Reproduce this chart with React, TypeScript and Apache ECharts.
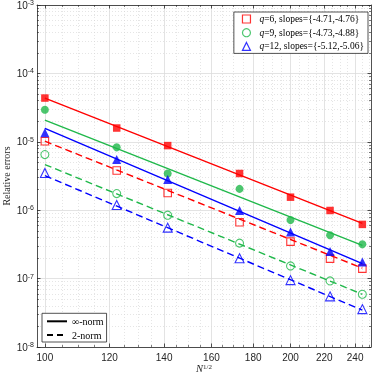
import React, { useEffect, useRef } from "react";
import * as echarts from "echarts";

// x = N^{1/2}
const X_VALUES = [100, 122.47, 141.42, 173.21, 200, 223.61, 244.95];
const X_TICKS = [100, 120, 140, 160, 180, 200, 220, 240];
const X_MINOR = [105, 110, 115, 125, 130, 135, 145, 150, 155, 165, 170, 175, 185, 190, 195, 205, 210, 215, 225, 230, 235, 245, 250];
const Y_TICK_EXP = [-8, -7, -6, -5, -4, -3];
const Y_MINOR_MANT = [2, 3, 4, 5, 6, 7, 8, 9];

// measured errors (filled = inf-norm, open = 2-norm)
const q6Inf = [4.36e-5, 1.59e-5, 8.8e-6, 3.44e-6, 1.55e-6, 9.9e-7, 6.2e-7];
const q6Two = [1.02e-5, 3.8e-6, 1.78e-6, 6.65e-7, 3.47e-7, 1.96e-7, 1.4e-7];
const q9Inf = [2.94e-5, 8.3e-6, 3.44e-6, 2.05e-6, 7.2e-7, 4.3e-7, 3.17e-7];
const q9Two = [6.5e-6, 1.75e-6, 8.45e-7, 3.3e-7, 1.53e-7, 9.25e-8, 5.9e-8];
const q12Inf = [1.36e-5, 5.5e-6, 2.81e-6, 9.9e-7, 4.8e-7, 2.48e-7, 1.75e-7];
const q12Two = [3.5e-6, 1.19e-6, 5.56e-7, 1.98e-7, 9.5e-8, 5.5e-8, 3.58e-8];

// fitted lines (endpoints)
const FIT_X = [100, 244.95];
const q6InfFit = [4.36e-5, 6.4e-7];
const q6TwoFit = [1.02e-5, 1.42e-7];
const q9InfFit = [2.08e-5, 3.05e-7];
const q9TwoFit = [4.65e-6, 5.9e-8];
const q12InfFit = [1.57e-5, 1.66e-7];
const q12TwoFit = [3.2e-6, 3.45e-8];

const NAMES = [
  "q=6, slopes={-4.71,-4.76}",
  "q=9, slopes={-4.73,-4.88}",
  "q=12, slopes={-5.12,-5.06}",
];
const NORM_NAMES = ["\u221e-norm", "2-norm"];

const RED = "#ff0000";
const GREEN = "#1fb84a";
const BLUE = "#0000ff";
const AX = "#262626";
const SERIF = "'Liberation Serif', 'DejaVu Serif', serif";
const SANS = "'Liberation Sans', Arial, sans-serif";

const L = (v: number) => Math.log10(v);
const pts = (xs: number[], ys: number[]) => xs.map((x, i) => [L(x), L(ys[i])]);

export default function App() {
  const ref = useRef<HTMLDivElement>(null);
  useEffect(() => {
    if (!ref.current) return;
    const chart = echarts.init(ref.current, null, { renderer: "svg" });
    const xMin = L(97.8);
    const xMax = L(251);
    const yMinor: number[] = [];
    for (let e = -8; e < -3; e++) for (const m of Y_MINOR_MANT) yMinor.push(L(m) + e);

    const baseX = { type: "value", min: xMin, max: xMax, gridIndex: 0 } as any;
    const baseY = { type: "value", min: -8, max: -3, gridIndex: 0 } as any;
    const noLabel = { show: false };
    const axLine = { show: true, lineStyle: { color: AX, width: 0.8 } };

    const colors = [RED, GREEN, BLUE];
    const symbols = ["rect", "circle", "triangle"];
    const sizes = [7.5, 8, 9];
    const infData = [q6Inf, q9Inf, q12Inf];
    const twoData = [q6Two, q9Two, q12Two];
    const infFit = [q6InfFit, q9InfFit, q12InfFit];
    const twoFit = [q6TwoFit, q9TwoFit, q12TwoFit];

    const series: any[] = [];
    for (let k = 0; k < 3; k++) {
      series.push({
        type: "line", name: "fitInf" + k, data: pts(FIT_X, infFit[k]), symbol: "none",
        lineStyle: { color: colors[k], width: 1.4 }, z: 2,
      });
      series.push({
        type: "line", name: "fitTwo" + k, data: pts(FIT_X, twoFit[k]), symbol: "none",
        lineStyle: { color: colors[k], width: 1.4, type: [7, 4] }, z: 2,
      });
    }
    for (let k = 0; k < 3; k++) {
      series.push({
        type: "scatter", name: "inf" + k, data: pts(X_VALUES, infData[k]), symbol: symbols[k],
        symbolSize: sizes[k], itemStyle: { color: colors[k] }, z: 3,
      });
      series.push({
        type: "scatter", name: NAMES[k], data: pts(X_VALUES, twoData[k]), symbol: symbols[k],
        symbolSize: sizes[k],
        itemStyle: { color: "transparent", borderColor: colors[k], borderWidth: 1.1 }, z: 3,
      });
    }
    series.push({ type: "line", name: NORM_NAMES[0], data: [], symbol: "none", color: "#000", lineStyle: { color: "#000", width: 1.2 } });
    series.push({ type: "line", name: NORM_NAMES[1], data: [], symbol: "none", color: "#000", lineStyle: { color: "#000", width: 1.2, type: [6, 4] } });

    chart.setOption({
      animation: false,
      grid: { left: 37, right: 3, top: 5, bottom: 28, containLabel: false, outerBoundsMode: "none" },
      xAxis: [
        {
          ...baseX, position: "bottom",
          axisLine: axLine,
          axisTick: { inside: true, length: 3.5, customValues: X_TICKS.map(L), lineStyle: { color: AX, width: 0.8 } },
          axisLabel: {
            customValues: X_TICKS.map(L), margin: 5, color: AX, fontFamily: SANS, fontSize: 10,
            formatter: (v: number) => String(Math.round(Math.pow(10, v))),
          },
          splitLine: { show: true, lineStyle: { color: "#dcdcdc", width: 0.8 } },
          name: "{n|N}{s|1/2}", nameLocation: "middle", nameGap: 16, nameMoveOverlap: false,
          nameTextStyle: {
            rich: {
              n: { fontFamily: SERIF, fontStyle: "italic", fontSize: 10.5, lineHeight: 11, color: AX },
              s: { fontFamily: SERIF, fontSize: 7, lineHeight: 8, color: AX, padding: [0, 0, 3, 0] },
            },
          },
        },
        {
          ...baseX, position: "bottom", axisLine: { show: false }, axisLabel: noLabel,
          axisTick: { inside: true, length: 2, customValues: X_MINOR.map(L), lineStyle: { color: AX, width: 0.6 } },
          splitLine: { show: true, lineStyle: { color: "#d4d4d4", width: 0.6, type: [1, 2] } },
        },
        {
          ...baseX, position: "top", axisLine: axLine, axisLabel: noLabel,
          axisTick: { inside: true, length: 3.5, customValues: X_TICKS.map(L), lineStyle: { color: AX, width: 0.8 } },
          splitLine: { show: false },
        },
        {
          ...baseX, position: "top", axisLine: { show: false }, axisLabel: noLabel,
          axisTick: { inside: true, length: 2, customValues: X_MINOR.map(L), lineStyle: { color: AX, width: 0.6 } },
          splitLine: { show: false },
        },
      ],
      yAxis: [
        {
          ...baseY, position: "left", interval: 1,
          axisLine: axLine,
          axisTick: { inside: true, length: 3.5, customValues: Y_TICK_EXP, lineStyle: { color: AX, width: 0.8 } },
          axisLabel: {
            customValues: Y_TICK_EXP, margin: 3, color: AX, fontFamily: SANS,
            formatter: (v: number) => `{b|10}{s|${Math.round(v)}}`,
            rich: {
              b: { fontFamily: SANS, fontSize: 10, color: AX },
              s: { fontFamily: SANS, fontSize: 7, color: AX, padding: [0, 0, 5, 0] },
            },
          },
          splitLine: { show: true, lineStyle: { color: "#dcdcdc", width: 0.8 } },
          name: "Relative errors", nameLocation: "middle", nameGap: 26, nameMoveOverlap: false,
          nameTextStyle: { fontFamily: SERIF, fontSize: 10, color: AX },
        },
        {
          ...baseY, position: "left", axisLine: { show: false }, axisLabel: noLabel,
          axisTick: { inside: true, length: 2, customValues: yMinor, lineStyle: { color: AX, width: 0.6 } },
          splitLine: { show: true, lineStyle: { color: "#d4d4d4", width: 0.6, type: [1, 2] } },
        },
        {
          ...baseY, position: "right", interval: 1, axisLine: axLine, axisLabel: noLabel,
          axisTick: { inside: true, length: 3.5, customValues: Y_TICK_EXP, lineStyle: { color: AX, width: 0.8 } },
          splitLine: { show: false },
        },
        {
          ...baseY, position: "right", axisLine: { show: false }, axisLabel: noLabel,
          axisTick: { inside: true, length: 2, customValues: yMinor, lineStyle: { color: AX, width: 0.6 } },
          splitLine: { show: false },
        },
      ],
      legend: [
        {
          orient: "vertical", right: 6, top: 12,
          backgroundColor: "#fff", borderColor: AX, borderWidth: 0.8, borderRadius: 0,
          padding: [2, 4, 2, 8], itemWidth: 8, itemHeight: 8, itemGap: 3.7,
          data: NAMES.map((n, k) => ({
            name: n, icon: symbols[k],
            itemStyle: { color: "transparent", borderColor: colors[k], borderWidth: 1.2 },
          })),
          formatter: (name: string) => "{i|q}" + name.slice(1),
          textStyle: {
            fontFamily: SERIF, fontSize: 9.5, color: "#000", padding: [0, 0, 0, 4],
            rich: { i: { fontFamily: SERIF, fontStyle: "italic", fontSize: 9.5, color: "#000" } },
          },
        },
        {
          orient: "vertical", left: 42, bottom: 33,
          backgroundColor: "#fff", borderColor: AX, borderWidth: 0.8, borderRadius: 0,
          padding: [3, 3, 2, 4], itemWidth: 20, itemHeight: 8, itemGap: 3.7,
          data: NORM_NAMES,
          itemStyle: { opacity: 0, color: "transparent", borderWidth: 0 },
          textStyle: { fontFamily: SERIF, fontSize: 10, color: "#000" },
        },
      ],
      series,
    });
    return () => chart.dispose();
  }, []);
  return <div ref={ref} style={{ position: "fixed", left: 0, top: 0, width: 374, height: 375 }} />;
}
